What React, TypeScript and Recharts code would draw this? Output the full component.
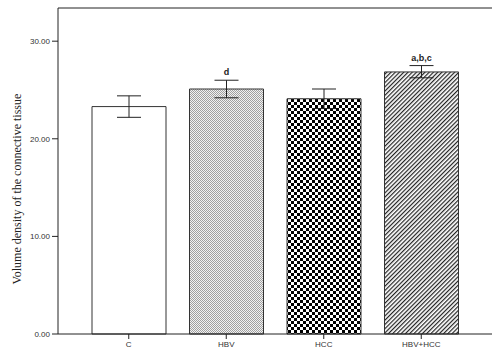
import { BarChart, Bar, XAxis, YAxis, Cell, ErrorBar, LabelList } from 'recharts';

const groups = ['C', 'HBV', 'HCC', 'HBV+HCC'];
const means = [23.3, 25.1, 24.1, 26.85];
const errLow = [1.1, 0.9, 1.0, 0.6];
const errHigh = [1.1, 0.9, 1.0, 0.65];
const letters = ['', 'd', '', 'a,b,c'];
const fills = ['#ffffff', 'url(#dots)', 'url(#checks)', 'url(#hatch)'];
const yTicks = [0, 10, 20, 30];

const data = groups.map((g, i) => ({
  group: g,
  mean: means[i],
  err: [errLow[i], errHigh[i]],
  letter: letters[i],
}));

const sans = 'Liberation Sans, Arial, sans-serif';

function SigLabel(props: any) {
  const { x, y, width, height, value, index } = props;
  if (!value) return null;
  const up = (height / means[index]) * errHigh[index];
  return (
    <text
      x={x + width / 2}
      y={y - up - 5}
      textAnchor="middle"
      fontFamily={sans}
      fontSize={9}
      fontWeight="bold"
      fill="#222"
    >
      {value}
    </text>
  );
}

export default function App() {
  return (
    <div style={{ position: 'absolute', left: 0, top: 0, background: '#fff' }}>
      <BarChart
        width={500}
        height={357}
        data={data}
        margin={{ top: 7, right: 8, bottom: 0, left: 0 }}
      >
        <defs>
          <pattern id="dots" width="2" height="2" patternUnits="userSpaceOnUse">
            <rect width="2" height="2" fill="#f2f2f2" />
            <rect width="1" height="1" fill="#a0a0a0" />
            <rect x="1" y="1" width="1" height="1" fill="#a0a0a0" />
          </pattern>
          <pattern id="checks" width="6" height="6" patternUnits="userSpaceOnUse">
            <rect width="6" height="6" fill="#fff" />
            <rect width="3" height="3" fill="#000" />
            <rect x="3" y="3" width="3" height="3" fill="#000" />
          </pattern>
          <pattern
            id="hatch"
            width="3"
            height="3"
            patternUnits="userSpaceOnUse"
            patternTransform="rotate(45)"
          >
            <rect width="3" height="3" fill="#fff" />
            <rect width="1.2" height="3" fill="#222" />
          </pattern>
        </defs>
        <XAxis
          dataKey="group"
          padding={{ left: 22, right: 22 }}
          height={23}
          tickSize={5}
          tickMargin={2}
          axisLine={{ stroke: '#222' }}
          tickLine={{ stroke: '#222' }}
          tick={{ fill: '#333', fontSize: 8, fontFamily: sans }}
        />
        <XAxis
          xAxisId="top"
          orientation="top"
          dataKey="group"
          height={1}
          tick={false}
          tickLine={false}
          axisLine={{ stroke: '#222' }}
        />
        <YAxis
          width={58}
          domain={[0, 33.4]}
          ticks={yTicks}
          tickFormatter={(v: number) => v.toFixed(2)}
          tickSize={6}
          tickMargin={2}
          axisLine={{ stroke: '#222' }}
          tickLine={{ stroke: '#222' }}
          tick={{ fill: '#333', fontSize: 8, fontFamily: sans }}
          label={{
            value: 'Volume density of the connective tissue',
            angle: -90,
            position: 'insideLeft',
            dx: 12,
            dy: 18,
            style: { fontFamily: 'Liberation Serif, Times New Roman, serif', fontSize: 12, fill: '#222', textAnchor: 'middle' },
          }}
        />
        <YAxis
          yAxisId="right"
          orientation="right"
          width={0}
          domain={[0, 33.4]}
          tick={false}
          tickLine={false}
          axisLine={{ stroke: '#222' }}
        />
        <Bar dataKey="mean" barSize={74} stroke="#333" strokeWidth={1} isAnimationActive={false}>
          {data.map((d, i) => (
            <Cell key={d.group} fill={fills[i]} />
          ))}
          <ErrorBar dataKey="err" width={12} stroke="#222" strokeWidth={1} />
          <LabelList dataKey="letter" content={<SigLabel />} />
        </Bar>
      </BarChart>
    </div>
  );
}
